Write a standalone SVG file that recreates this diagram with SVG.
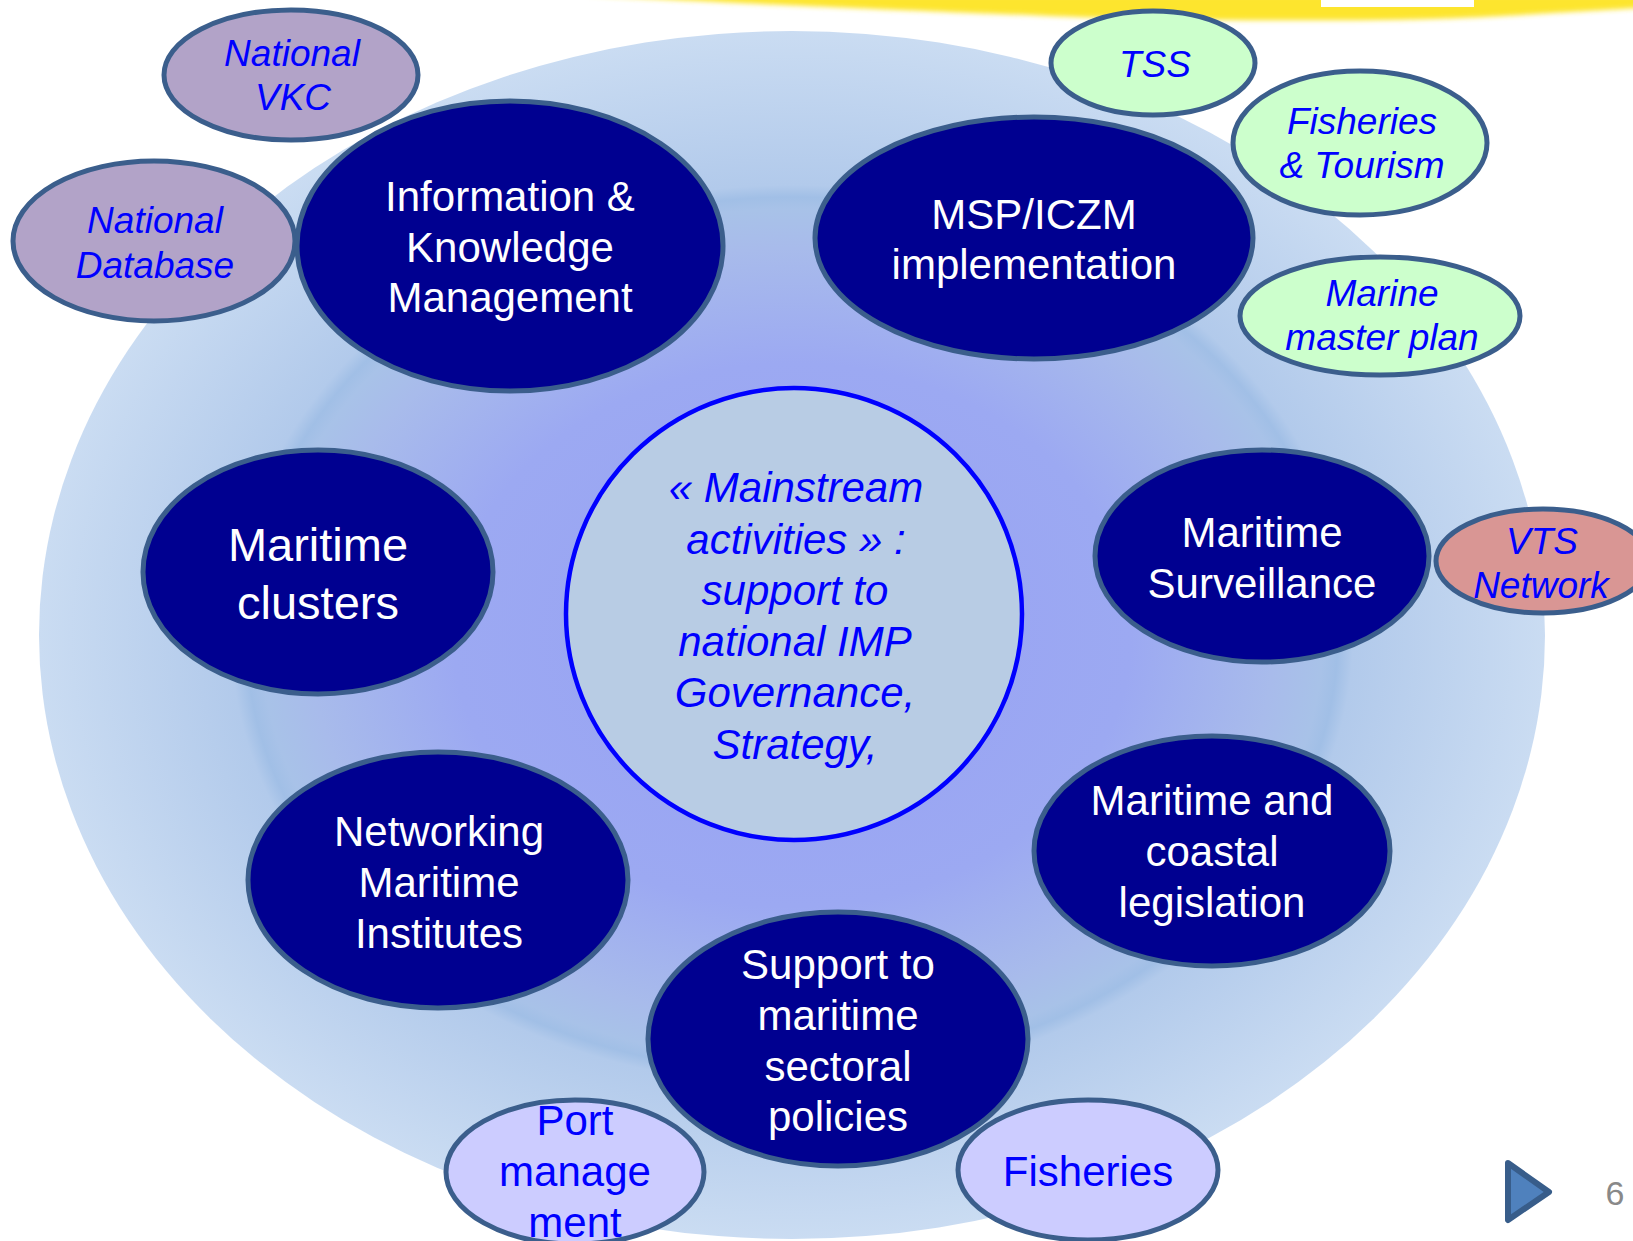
<svg xmlns="http://www.w3.org/2000/svg" width="1633" height="1241" viewBox="0 0 1633 1241">
<defs>
<radialGradient id="bgGrad" cx="0.5" cy="0.5" r="0.5">
<stop offset="0" stop-color="#97a1f4"/>
<stop offset="0.45" stop-color="#9ca9f2"/>
<stop offset="0.64" stop-color="#a8bbeb"/>
<stop offset="0.705" stop-color="#a8c2e8"/>
<stop offset="0.725" stop-color="#a1bfe6"/>
<stop offset="0.745" stop-color="#b2caeb"/>
<stop offset="1" stop-color="#cadcf2"/>
</radialGradient>
<filter id="blur" x="-5%" y="-100%" width="110%" height="300%">
<feGaussianBlur stdDeviation="2.5"/>
</filter>
<style>
.navy{fill:#000090;stroke:#3b5e8c;stroke-width:5}
.purple{fill:#b2a3c8;stroke:#3b5e8c;stroke-width:5}
.green{fill:#ccffcc;stroke:#3b5e8c;stroke-width:5}
.pink{fill:#d99694;stroke:#3b5e8c;stroke-width:5}
.lav{fill:#ccccff;stroke:#3b5e8c;stroke-width:5}
.wt{font-family:"Liberation Sans",Arial,sans-serif;font-size:42px;fill:#ffffff;text-anchor:middle}
.big{font-size:47px}
.bi{font-family:"Liberation Sans",Arial,sans-serif;font-size:37px;font-style:italic;fill:#0000ff;text-anchor:middle}
.bu{font-family:"Liberation Sans",Arial,sans-serif;font-size:42px;fill:#0000ff;text-anchor:middle}
.it{font-style:italic}
</style>
</defs>
<rect x="0" y="0" width="1633" height="1241" fill="#ffffff"/>
<g id="background">
<path d="M 585 -5 L 1640 -5 L 1640 8 C 1560 12 1480 19 1380 20 C 1250 21 1150 20 1050 16 C 900 10 760 5 585 -5 Z" fill="#fde52f" filter="url(#blur)"/>
<rect x="1321" y="0" width="153" height="7" fill="#ffffff"/>
<ellipse cx="792" cy="635" rx="753" ry="604" fill="url(#bgGrad)"/>
</g>
<g id="connectors"></g>
<g id="node-center">
<ellipse cx="794" cy="614" rx="228" ry="226" fill="#b8cce4" stroke="#0000ff" stroke-width="4.5"/>
<text class="bu it" x="796" y="502">« Mainstream</text>
<text class="bu it" x="796" y="554">activities » :</text>
<text class="bu it" x="795" y="605">support to</text>
<text class="bu it" x="795" y="656">national IMP</text>
<text class="bu it" x="795" y="707">Governance,</text>
<text class="bu it" x="795" y="759">Strategy,</text>
</g>
<g id="node-vkc">
<ellipse class="purple" cx="291" cy="75" rx="127" ry="65"/>
<text class="bi" x="292" y="66">National</text>
<text class="bi" x="293" y="110">VKC</text>
</g>
<g id="node-database">
<ellipse class="purple" cx="154" cy="241" rx="141" ry="80"/>
<text class="bi" x="155" y="233">National</text>
<text class="bi" x="155" y="278">Database</text>
</g>
<g id="node-info">
<ellipse class="navy" cx="510" cy="246" rx="213" ry="145"/>
<text class="wt" x="510" y="211">Information &amp;</text>
<text class="wt" x="510" y="262">Knowledge</text>
<text class="wt" x="510" y="312">Management</text>
</g>
<g id="node-msp">
<ellipse class="navy" cx="1034" cy="238" rx="219" ry="121"/>
<text class="wt" x="1034" y="229">MSP/ICZM</text>
<text class="wt" x="1034" y="279">implementation</text>
</g>
<g id="node-tss">
<ellipse class="green" cx="1153" cy="63" rx="102" ry="52"/>
<text class="bi" x="1155" y="77">TSS</text>
</g>
<g id="node-fish-tourism">
<ellipse class="green" cx="1360" cy="143" rx="127" ry="72"/>
<text class="bi" x="1362" y="134">Fisheries</text>
<text class="bi" x="1362" y="178">&amp; Tourism</text>
</g>
<g id="node-marine">
<ellipse class="green" cx="1380" cy="316" rx="140" ry="59"/>
<text class="bi" x="1382" y="306">Marine</text>
<text class="bi" x="1382" y="350">master plan</text>
</g>
<g id="node-clusters">
<ellipse class="navy" cx="318" cy="572" rx="175" ry="122"/>
<text class="wt big" x="318" y="561">Maritime</text>
<text class="wt big" x="318" y="619">clusters</text>
</g>
<g id="node-surveillance">
<ellipse class="navy" cx="1262" cy="556" rx="167" ry="106"/>
<text class="wt" x="1262" y="547">Maritime</text>
<text class="wt" x="1262" y="598">Surveillance</text>
</g>
<g id="node-vts">
<ellipse class="pink" cx="1543" cy="561" rx="107" ry="52"/>
<text class="bi" x="1542" y="554">VTS</text>
<text class="bi" x="1541" y="598">Network</text>
</g>
<g id="node-legislation">
<ellipse class="navy" cx="1212" cy="851" rx="178" ry="115"/>
<text class="wt" x="1212" y="815">Maritime and</text>
<text class="wt" x="1212" y="866">coastal</text>
<text class="wt" x="1212" y="917">legislation</text>
</g>
<g id="node-networking">
<ellipse class="navy" cx="438" cy="880" rx="190" ry="128"/>
<text class="wt" x="439" y="846">Networking</text>
<text class="wt" x="439" y="897">Maritime</text>
<text class="wt" x="439" y="948">Institutes</text>
</g>
<g id="node-support">
<ellipse class="navy" cx="838" cy="1039" rx="190" ry="127"/>
<text class="wt" x="838" y="979">Support to</text>
<text class="wt" x="838" y="1030">maritime</text>
<text class="wt" x="838" y="1081">sectoral</text>
<text class="wt" x="838" y="1131">policies</text>
</g>
<g id="node-port">
<ellipse class="lav" cx="575" cy="1172" rx="129" ry="72"/>
<text class="bu" x="575" y="1135">Port</text>
<text class="bu" x="575" y="1186">manage</text>
<text class="bu" x="575" y="1237">ment</text>
</g>
<g id="node-fisheries">
<ellipse class="lav" cx="1088" cy="1170" rx="130" ry="70"/>
<text class="bu" x="1088" y="1186">Fisheries</text>
</g>
<g id="nav">
<polygon points="1508,1163 1549,1192 1508,1220" fill="#4f81bd" stroke="#385d8a" stroke-width="6" stroke-linejoin="round"/>
<text x="1615" y="1205" font-family="Liberation Sans,Arial,sans-serif" font-size="34" fill="#898989" text-anchor="middle">6</text>
</g>
</svg>
